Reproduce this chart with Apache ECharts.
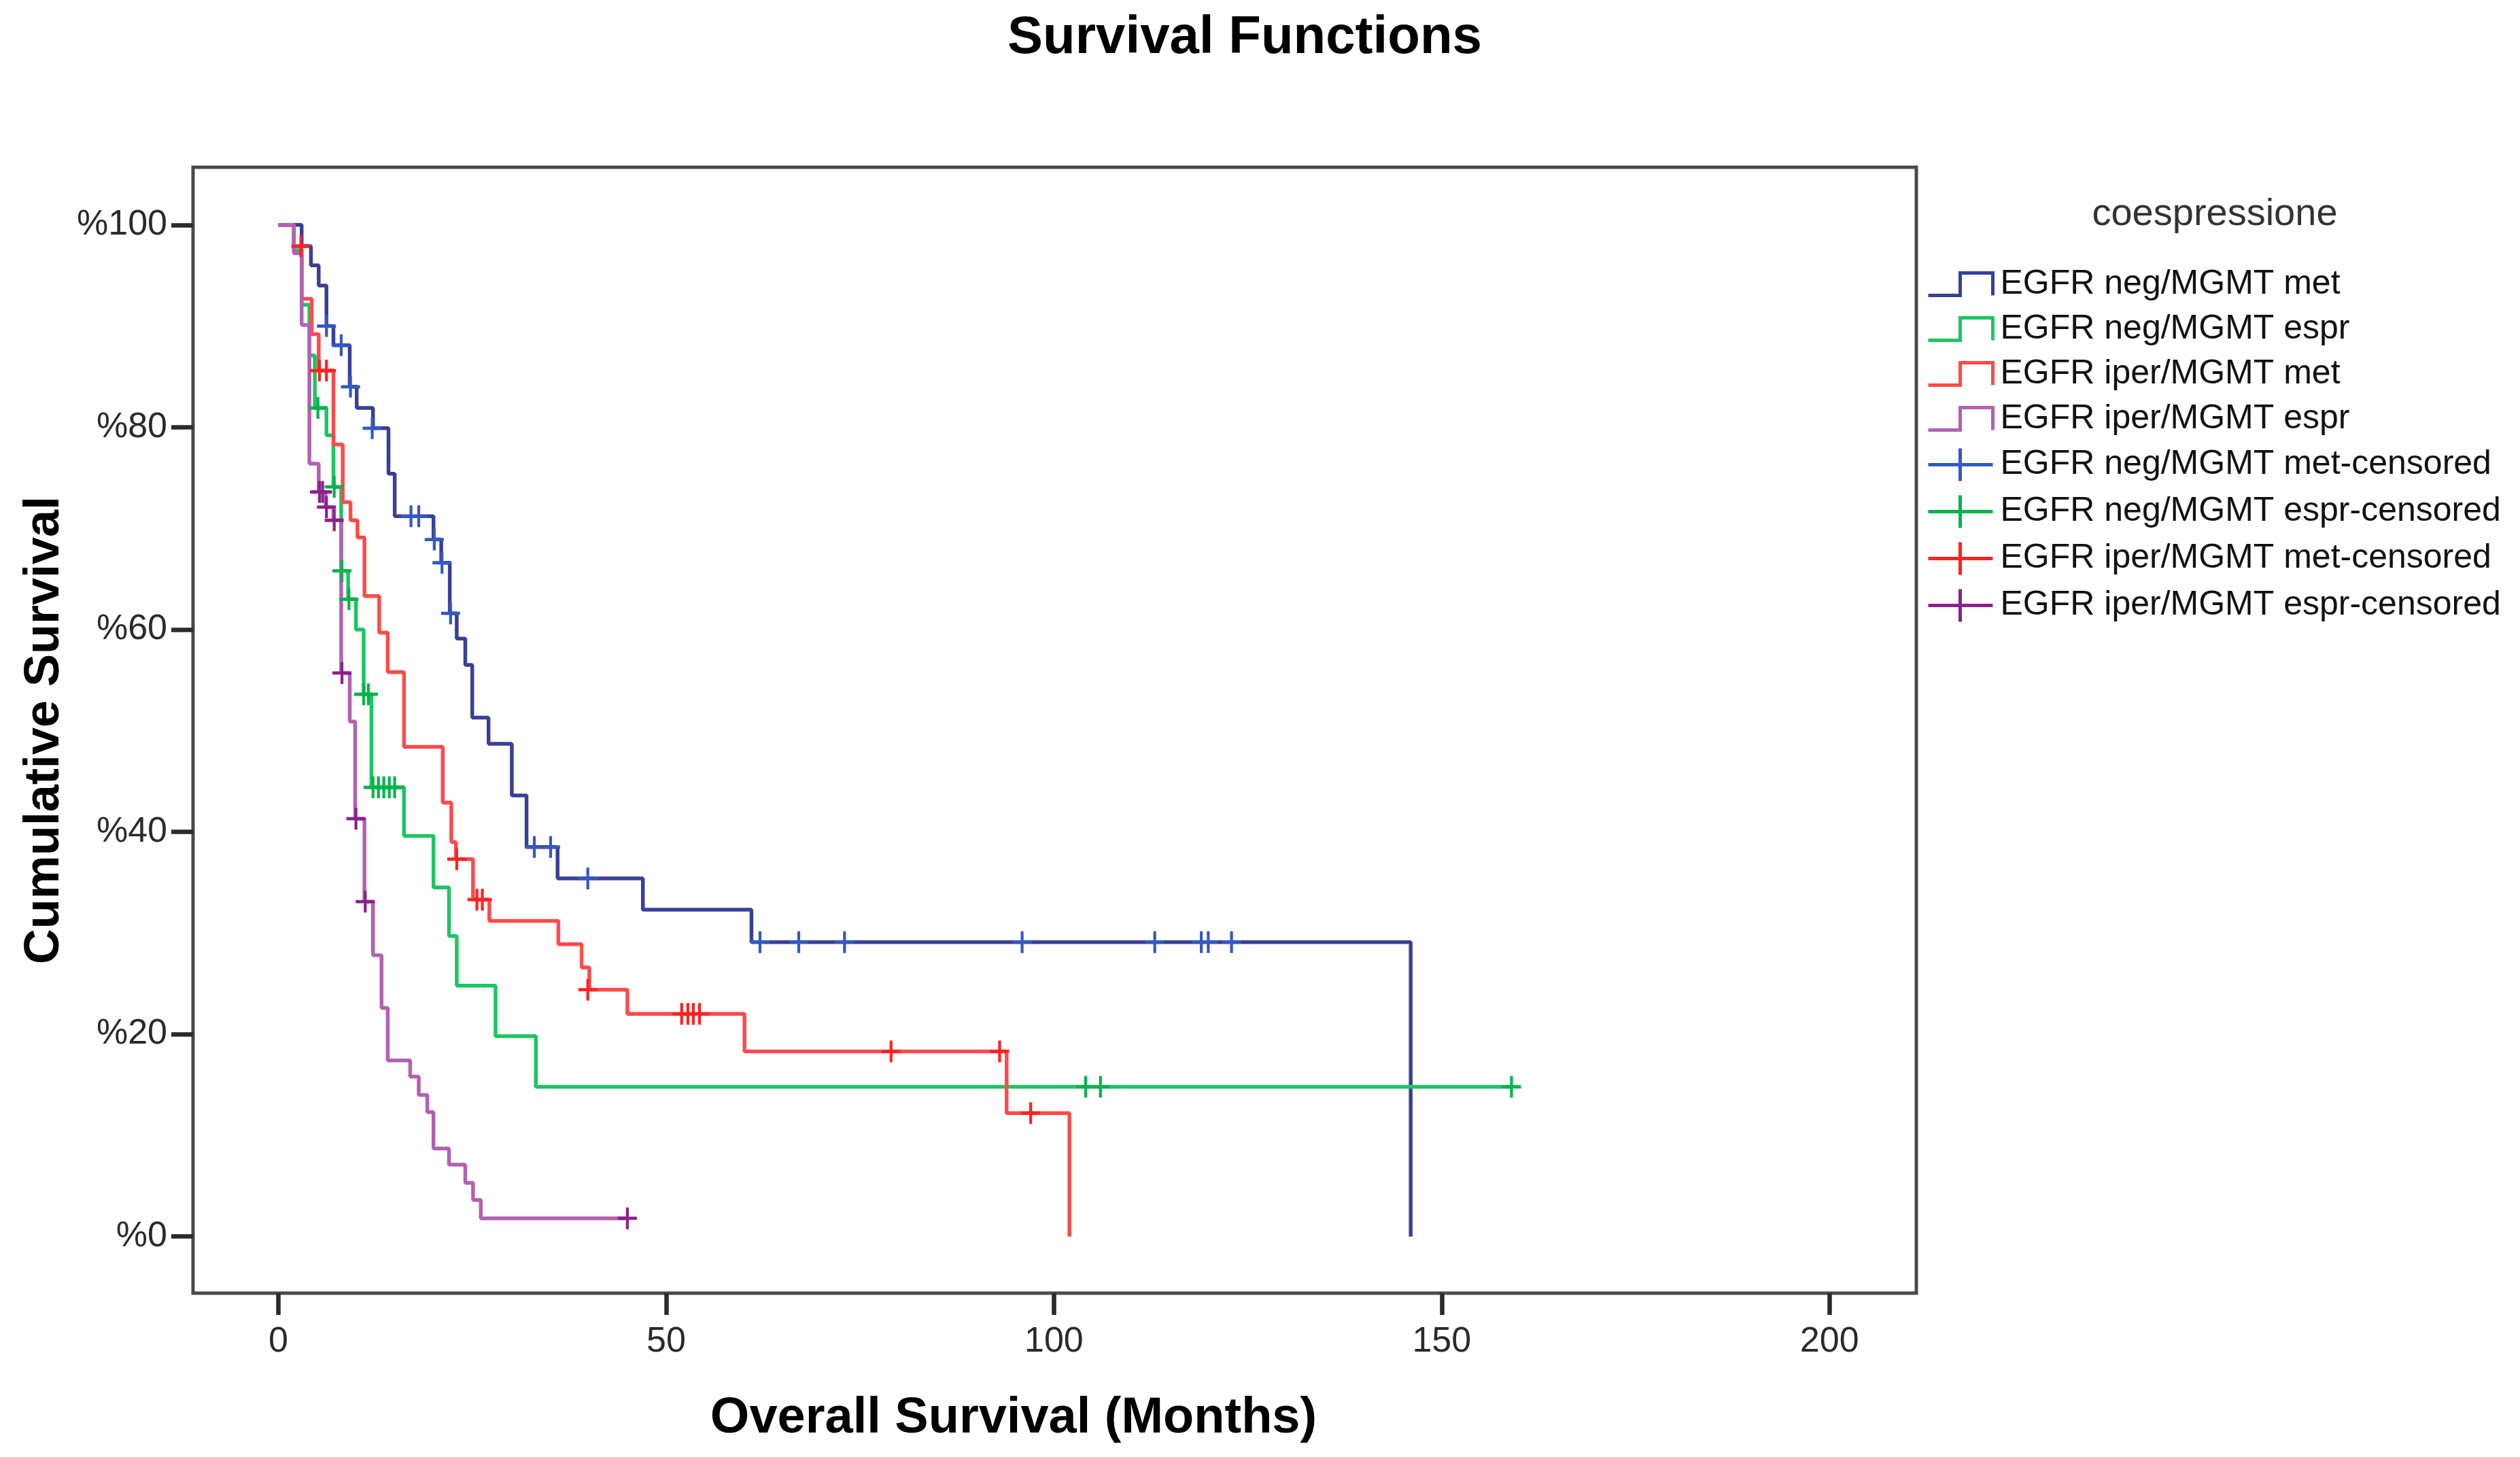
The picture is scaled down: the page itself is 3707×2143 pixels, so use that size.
<!doctype html>
<html>
  <head>
    <title>Survival Functions</title>
    <meta charset="utf-8">
    <script src="https://cdn.jsdelivr.net/npm/echarts@6/dist/echarts.min.js"></script>
    <style>
      html, body { margin:0; padding:0; background:#fff; }
    </style>
  </head>
  <body>
    <div id="main" style="width:3707px;height:2143px;"></div>
  </body>
  <script>
   // legend names
   var groupNames = ['EGFR neg/MGMT met', 'EGFR neg/MGMT espr', 'EGFR iper/MGMT met', 'EGFR iper/MGMT espr'];
   var lineColors = ['#3A3F96', '#1DC562', '#FF4A4A', '#B261B2'];
   var censColors = ['#3259C4', '#00B44A', '#FF2222', '#8C1F8C'];

   // axis ticks
   var xTicks = [0, 50, 100, 150, 200];
   var yTicks = [0, 20, 40, 60, 80, 100];

   // Kaplan-Meier steps [months, % surviving after the event]
   var negMet = [[0,100],[3.0,97.9],[4.2,96.0],[5.2,94.0],[6.2,90.0],[7.1,88.1],[9.2,84.0],[10.1,81.9],
     [12.2,79.9],[14.2,75.4],[15.0,71.2],[20.0,68.9],[21.0,66.6],[22.1,61.6],[23.0,59.1],[24.1,56.5],
     [25.0,51.3],[27.1,48.7],[30.1,43.6],[32.0,38.5],[36.0,35.4],[47.0,32.3],[61.0,29.1],[146.0,0]];
   var negEspr = [[0,100],[2.0,97.5],[3.0,92.1],[4.0,87.1],[4.7,81.9],[6.2,79.2],[7.1,74.1],[8.1,65.8],
     [9.0,63.0],[10.0,60.0],[11.0,53.6],[12.0,44.4],[16.2,39.6],[20.0,34.5],[22.0,29.7],[23.0,24.8],
     [28.0,19.8],[33.2,14.8],[159.0,14.8]];
   var iperMet = [[0,100],[2.0,97.9],[3.0,92.7],[4.3,89.2],[5.2,85.6],[7.1,78.3],[8.3,72.6],[9.3,70.8],
     [10.2,69.1],[11.1,63.3],[13.0,59.7],[14.1,55.8],[16.2,48.4],[21.2,42.9],[22.3,39.0],[22.9,37.3],
     [25.1,33.3],[27.2,31.2],[36.1,28.9],[39.1,26.6],[40.1,24.4],[45.0,22.0],[60.1,18.3],[93.9,12.2],[102.0,0]];
   var iperEspr = [[0,100],[2.0,97.2],[3.0,90.1],[4.0,76.4],[5.2,73.6],[6.1,72.1],[7.1,70.8],[8.1,55.7],
     [9.2,50.9],[9.9,41.3],[11.1,33.1],[12.2,27.8],[13.3,22.6],[14.1,17.4],[17.0,15.8],[18.1,14.0],
     [19.2,12.3],[20.0,8.7],[22.0,7.1],[24.1,5.3],[25.1,3.6],[26.1,1.8],[45.0,1.8]];

   // censored observations
   var negMetCens = [[6.2,90.0],[8.1,88.1],[9.3,84.0],[12.1,79.9],[17.1,71.2],[18.1,71.2],[20.1,68.9],
     [21.1,66.6],[22.2,61.6],[33.0,38.5],[35.1,38.5],[39.9,35.4],[62.1,29.1],[67.1,29.1],[73.0,29.1],
     [95.9,29.1],[113.0,29.1],[119.0,29.1],[119.9,29.1],[122.9,29.1]];
   var negEsprCens = [[5.1,81.9],[7.2,74.1],[8.2,65.8],[9.1,63.0],[11.0,53.6],[11.6,53.6],[12.2,44.4],
     [12.9,44.4],[13.6,44.4],[14.3,44.4],[15.0,44.4],[104.1,14.8],[106.0,14.8],[159.0,14.8]];
   var iperMetCens = [[2.9,97.9],[5.3,85.6],[6.2,85.6],[23.0,37.3],[25.6,33.3],[26.3,33.3],[39.9,24.4],
     [52.0,22.0],[52.8,22.0],[53.5,22.0],[54.3,22.0],[79.0,18.3],[93.0,18.3],[97.0,12.2]];
   var iperEsprCens = [[5.3,73.6],[5.7,73.6],[6.2,72.1],[7.2,70.8],[8.2,55.7],[10.0,41.3],[11.2,33.1],[45.0,1.8]];

   var steps = [negMet, negEspr, iperMet, iperEspr];
   var cens = [negMetCens, negEsprCens, iperMetCens, iperEsprCens];

   var font = '"Liberation Sans", Arial, sans-serif';
   var stepIcon = 'path://M0,33L47,33L47,0L95,0L95,33';
   var crossIcon = 'path://M0,24L95,24M47,0L47,48';
   var crossMark = 'path://M0,15L30,15M15,0L15,30';

   var chart = echarts.init(document.getElementById('main'));

   var series = [];
   var legendData = [];
   for (var i = 0; i < 4; i++) {
     series.push({
       name: groupNames[i],
       type: 'line',
       step: 'end',
       symbol: 'none',
       data: steps[i],
       lineStyle: { color: lineColors[i], width: 5.5 },
       itemStyle: { color: lineColors[i] },
       z: 2
     });
     legendData.push({
       name: groupNames[i],
       icon: stepIcon,
       itemStyle: { color: 'rgba(0,0,0,0)', borderColor: lineColors[i], borderWidth: 5 }
     });
   }
   for (var j = 0; j < 4; j++) {
     series.push({
       name: groupNames[j] + '-censored',
       type: 'scatter',
       symbol: crossMark,
       symbolSize: [28, 32],
       data: cens[j],
       itemStyle: { color: 'rgba(0,0,0,0)', borderColor: censColors[j], borderWidth: 4.5, opacity: 1 },
       z: 3
     });
     legendData.push({
       name: groupNames[j] + '-censored',
       icon: crossIcon,
       itemStyle: { color: 'rgba(0,0,0,0)', borderColor: censColors[j], borderWidth: 5 }
     });
   }

   var option = {
     animation: false,
     backgroundColor: '#ffffff',
     graphic: [
       {
         type: 'text', x: 1831, y: 17,
         style: { text: 'Survival Functions', fill: '#000', font: 'bold 78px ' + font,
                  textAlign: 'center', align: 'center', textVerticalAlign: 'top', verticalAlign: 'top' }
       },
       {
         type: 'text', x: 1491, y: 2050,
         style: { text: 'Overall Survival (Months)', fill: '#000', font: 'bold 74px ' + font,
                  textAlign: 'center', align: 'center', textVerticalAlign: 'top', verticalAlign: 'top' }
       },
       {
         type: 'text', x: 3258, y: 288,
         style: { text: 'coespressione', fill: '#333', font: '56px ' + font,
                  textAlign: 'center', align: 'center', textVerticalAlign: 'top', verticalAlign: 'top' }
       }
     ],
     legend: {
       orient: 'vertical',
       left: 2829,
       top: 388,
       itemWidth: 95,
       itemHeight: 48,
       itemGap: 16,
       data: legendData,
       textStyle: { fontSize: 50, color: '#111', fontFamily: font, padding: [0, 0, 0, 6] }
     },
     grid: {
       left: 284, top: 246, right: 888, bottom: 241,
       show: true, borderColor: '#4a4a4a', borderWidth: 5, backgroundColor: '#fff'
     },
     xAxis: {
       type: 'value',
       min: -11,
       max: 211.2,
       axisLine: { show: false, onZero: false },
       splitLine: { show: false },
       axisTick: { show: true, inside: false, length: 32, customValues: xTicks,
                   lineStyle: { color: '#2a2a2a', width: 6.5 } },
       axisLabel: { customValues: xTicks, margin: 46, fontSize: 52, color: '#2a2a2a', fontFamily: font }
     },
     yAxis: {
       type: 'value',
       min: -5.6,
       max: 105.7,
       name: 'Cumulative Survival',
       nameLocation: 'middle',
       nameGap: 180,
       nameTextStyle: { fontSize: 72, fontWeight: 'bold', color: '#000', fontFamily: font },
       axisLine: { show: false, onZero: false },
       splitLine: { show: false },
       axisTick: { show: true, inside: false, length: 32, customValues: yTicks,
                   lineStyle: { color: '#2a2a2a', width: 6.5 } },
       axisLabel: { customValues: yTicks, margin: 38, fontSize: 52, color: '#2a2a2a', fontFamily: font,
                    formatter: function (v) { return '%' + v; } }
     },
     series: series
   };
   chart.setOption(option);
  </script>
</html>
